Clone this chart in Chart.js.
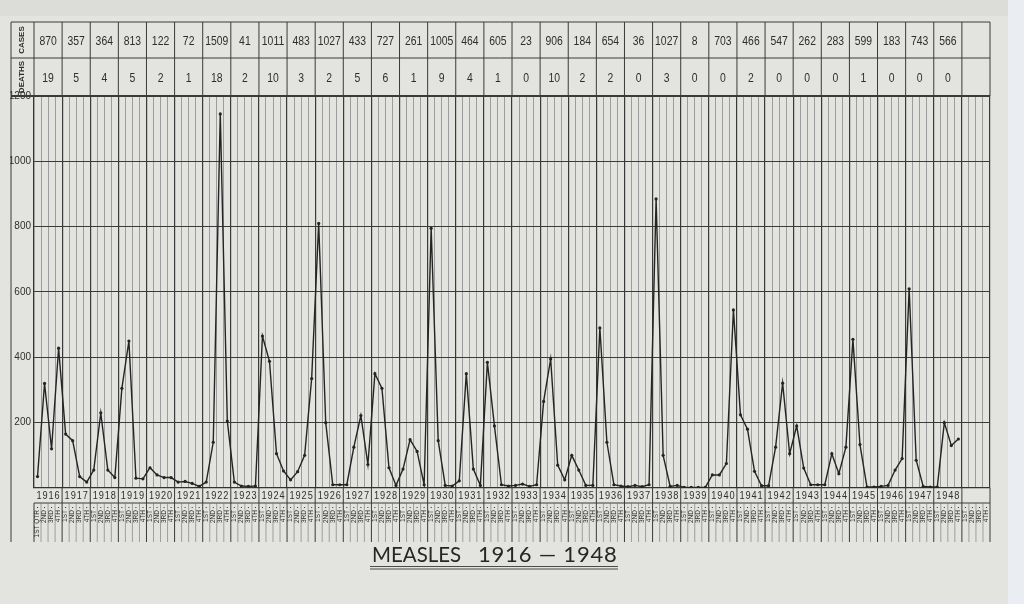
<!DOCTYPE html>
<html>
<head>
<meta charset="utf-8">
<title>Measles 1916 - 1948</title>
<script src="https://cdn.jsdelivr.net/npm/chart.js@4.4.0/dist/chart.umd.min.js"></script>
<style>
  html, body { margin: 0; padding: 0; background: #e3e3df; overflow: hidden; }
</style>
</head>
<body>
<canvas id="measlesChart" width="1024" height="604"></canvas>
<script>
const years = [1916, 1917, 1918, 1919, 1920, 1921, 1922, 1923, 1924, 1925, 1926,
               1927, 1928, 1929, 1930, 1931, 1932, 1933, 1934, 1935, 1936, 1937,
               1938, 1939, 1940, 1941, 1942, 1943, 1944, 1945, 1946, 1947, 1948];
const yearCases = [870, 357, 364, 813, 122, 72, 1509, 41, 1011, 483, 1027,
                   433, 727, 261, 1005, 464, 605, 23, 906, 184, 654, 36,
                   1027, 8, 703, 466, 547, 262, 283, 599, 183, 743, 566];
const yearDeaths = [19, 5, 4, 5, 2, 1, 18, 2, 10, 3, 2,
                    5, 6, 1, 9, 4, 1, 0, 10, 2, 2, 0,
                    3, 0, 0, 2, 0, 0, 0, 1, 0, 0, 0];
const quarterNames = ['1ST', '2ND', '3RD', '4TH'];
const yTicks = [200, 400, 600, 800, 1000, 1200];

// cases per quarter, four values a year
const quarterlyCases = [
  35, 320, 120, 428,    // 1916
  165, 145, 35, 18,     // 1917
  55, 230, 55, 32,      // 1918
  305, 450, 30, 28,     // 1919
  62, 40, 32, 32,       // 1920
  18, 20, 14, 5,        // 1921
  18, 140, 1145, 205,   // 1922
  18, 6, 5, 6,          // 1923
  465, 388, 105, 52,    // 1924
  25, 50, 100, 335,     // 1925
  810, 200, 10, 10,     // 1926
  10, 125, 222, 72,     // 1927
  350, 305, 62, 8,      // 1928
  58, 148, 112, 10,     // 1929
  795, 145, 8, 6,       // 1930
  22, 350, 58, 8,       // 1931
  385, 190, 10, 6,      // 1932
  8, 12, 5, 10,         // 1933
  265, 395, 70, 25,     // 1934
  100, 55, 8, 8,        // 1935
  490, 140, 10, 6,      // 1936
  4, 8, 4, 10,          // 1937
  885, 100, 5, 8,       // 1938
  2, 2, 2, 2,           // 1939
  40, 40, 75, 545,      // 1940
  224, 180, 51, 7,      // 1941
  7, 125, 321, 105,     // 1942
  190, 61, 10, 10,      // 1943
  10, 105, 44, 125,     // 1944
  455, 133, 3, 3,       // 1945
  5, 8, 55, 90,         // 1946
  610, 85, 5, 3,        // 1947
  3, 200, 130, 150      // 1948
];

const fontFamily = "'Liberation Sans', 'DejaVu Sans', sans-serif";
const ink = '#2e2e2e';

// one spare (empty) year column after 1948, like on the sheet
const nCols = years.length + 1;
const labels = [];
for (let i = 0; i < nCols * 4; i++) labels.push(quarterNames[i % 4]);
const series = quarterlyCases.concat([null, null, null, null]);

function squeeze(ctx, text, cx, cy, sx) {
  ctx.save();
  ctx.translate(cx, cy);
  ctx.scale(sx, 1);
  ctx.fillText(text, 0, 0);
  ctx.restore();
}

const paperSheet = {
  id: 'paperSheet',
  beforeDraw(chart) {
    const { ctx, width, height } = chart;
    ctx.save();
    ctx.fillStyle = '#e3e3df';
    ctx.fillRect(0, 0, width, height);
    ctx.fillStyle = '#dcdcd9';
    ctx.fillRect(0, 0, width, 16);
    ctx.fillStyle = '#eaedf2';
    ctx.fillRect(1008, 0, width - 1008, height);
    ctx.restore();
  },
  afterDraw(chart) {
    const { ctx, chartArea: area, scales: { x } } = chart;
    const step = x.getPixelForValue(1) - x.getPixelForValue(0);
    const edge = i => x.getPixelForValue(i) - step / 2;
    const frameL = 11, tTop = 22, tMid = 58, tBot = area.top;
    const yearRowBot = 503, qtrRowBot = 542;

    const hline = (x1, x2, y) => { ctx.beginPath(); ctx.moveTo(x1, y); ctx.lineTo(x2, y); ctx.stroke(); };
    const vline = (xx, y1, y2) => { ctx.beginPath(); ctx.moveTo(xx, y1); ctx.lineTo(xx, y2); ctx.stroke(); };

    ctx.save();
    ctx.strokeStyle = '#3a3a3a';
    ctx.lineWidth = 1;

    // cases / deaths table
    hline(frameL, area.right, tTop);
    hline(frameL, area.right, tMid);
    ctx.lineWidth = 2;
    hline(frameL, area.right, tBot);
    ctx.lineWidth = 1;
    vline(frameL, tTop, qtrRowBot);
    vline(area.left, tTop, tBot);
    for (let i = 1; i <= nCols; i++) vline(edge(i * 4), tTop, tBot);

    // year row and quarter row under the plot
    hline(area.left, area.right, yearRowBot);
    for (let i = 1; i <= nCols; i++) vline(edge(i * 4), area.bottom, yearRowBot);
    for (let q = 0; q <= nCols * 4; q++) {
      ctx.lineWidth = q % 4 === 0 ? 1 : 0.6;
      ctx.strokeStyle = q % 4 === 0 ? '#3a3a3a' : '#6f6f6f';
      vline(edge(q), yearRowBot, qtrRowBot);
    }

    ctx.fillStyle = ink;
    for (let q = 0; q < nCols * 4; q++) ctx.fillRect(x.getPixelForValue(q) - 0.5, 507, 1, 1);

    ctx.textAlign = 'center';
    ctx.textBaseline = 'middle';
    ctx.font = '13px ' + fontFamily;
    years.forEach((yr, i) => {
      const cx = edge(i * 4) + step * 2;
      squeeze(ctx, String(yearCases[i]), cx, 41, 0.8);
      squeeze(ctx, String(yearDeaths[i]), cx, 78, 0.8);
    });

    ctx.font = '10px ' + fontFamily;
    ctx.letterSpacing = '1px';
    years.forEach((yr, i) => {
      squeeze(ctx, String(yr), edge(i * 4) + step * 2 + 0.5, 496, 0.92);
    });
    ctx.letterSpacing = '0px';

    ctx.font = 'bold 8px ' + fontFamily;
    [['CASES', 40], ['DEATHS', 77]].forEach(([t, cy]) => {
      ctx.save();
      ctx.translate(22, cy);
      ctx.rotate(-Math.PI / 2);
      ctx.fillText(t, 0, 0);
      ctx.restore();
    });

    // title
    ctx.fillStyle = '#262626';
    ctx.textAlign = 'left';
    ctx.textBaseline = 'alphabetic';
    ctx.font = "22px Lato, 'Open Sans', sans-serif";
    squeezeLeft(ctx, 'MEASLES', 372, 562, 0.93);
    ctx.letterSpacing = '0.8px';
    ctx.fillText('1916 \u2014 1948', 478, 562);
    ctx.letterSpacing = '0px';
    ctx.strokeStyle = '#4a4a4a';
    ctx.lineWidth = 1;
    hline(370, 618, 566.5);
    hline(370, 618, 569);
    ctx.restore();
  }
};

function squeezeLeft(ctx, text, lx, by, sx) {
  ctx.save();
  ctx.translate(lx, by);
  ctx.scale(sx, 1);
  ctx.fillText(text, 0, 0);
  ctx.restore();
}

const ctx = document.getElementById('measlesChart').getContext('2d');
new Chart(ctx, {
  type: 'line',
  data: {
    labels: labels,
    datasets: [{
      label: 'Measles cases',
      data: series,
      borderColor: '#242424',
      borderWidth: 1.4,
      pointRadius: 1.6,
      pointBackgroundColor: '#242424',
      pointBorderWidth: 0,
      tension: 0,
      spanGaps: false
    }]
  },
  options: {
    responsive: false,
    animation: false,
    devicePixelRatio: 1,
    layout: { padding: { left: 10, top: 96, right: 34, bottom: 64 } },
    plugins: { legend: { display: false }, tooltip: { enabled: false } },
    scales: {
      x: {
        offset: true,
        grid: {
          offset: true,
          drawTicks: false,
          color: c => (c.index === undefined || c.index % 4 === 0) ? '#3a3a3a' : '#8a8a8a',
          lineWidth: c => (c.index === undefined || c.index % 4 === 0) ? 1.2 : 0.8
        },
        border: { color: '#333', width: 1.2 },
        ticks: {
          autoSkip: false,
          minRotation: 90,
          maxRotation: 90,
          padding: 22,
          color: ink,
          font: { size: 6.5, family: fontFamily },
          callback: (v, i) => quarterNames[i % 4] + (i === 0 ? ' QTR' : '')
        },
        afterFit: s => { s.height = 52; }
      },
      y: {
        min: 0,
        max: 1200,
        afterBuildTicks: s => { s.ticks = [0].concat(yTicks).map(v => ({ value: v })); },
        ticks: {
          padding: 3,
          color: ink,
          font: { size: 10, family: fontFamily },
          callback: v => v === 0 ? '' : String(v)
        },
        grid: { color: '#3a3a3a', lineWidth: 1.1, drawTicks: false },
        border: { color: '#333', width: 1.2 },
        afterFit: s => { s.width = 24; }
      }
    }
  },
  plugins: [paperSheet]
});
</script>
</body>
</html>
